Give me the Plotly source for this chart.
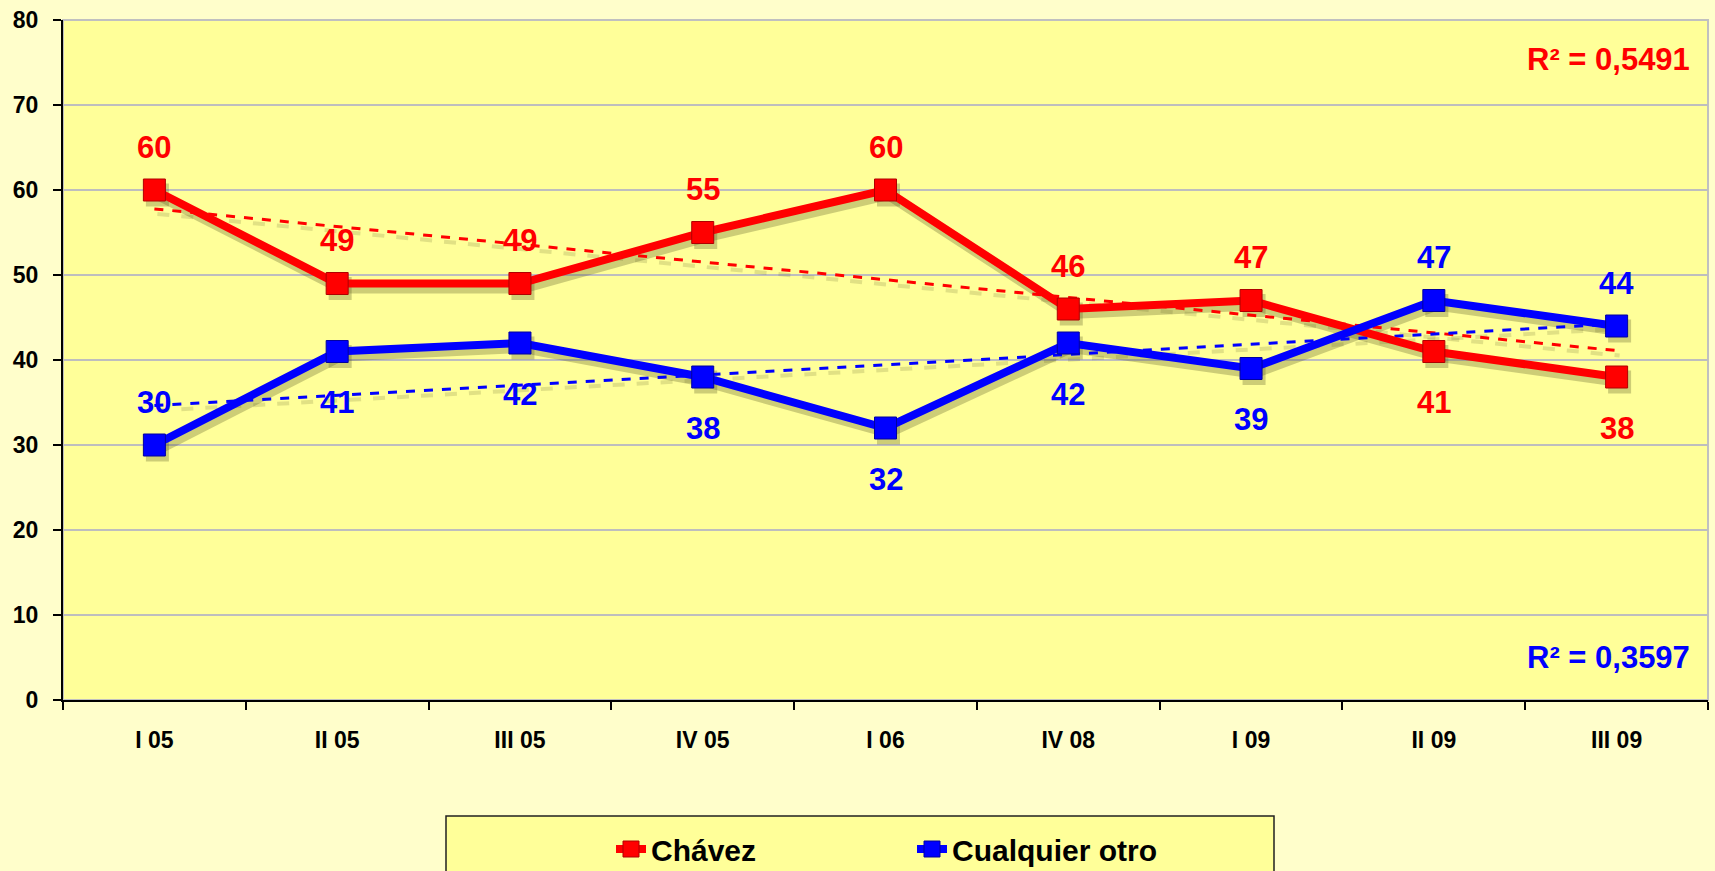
import numpy as np
import plotly.graph_objects as go

# data
periods = ["I 05", "II 05", "III 05", "IV 05", "I 06", "IV 08", "I 09", "II 09", "III 09"]
chavez = [60, 49, 49, 55, 60, 46, 47, 41, 38]
otro = [30, 41, 42, 38, 32, 42, 39, 47, 44]
chavez_label_pos = ["top", "top", "top", "top", "top", "top", "top", "bottom", "bottom"]
otro_label_pos = ["top", "bottom", "bottom", "bottom", "bottom", "bottom", "bottom", "top", "top"]
r2_chavez = "R² = 0,5491"
r2_otro = "R² = 0,3597"

RED = "#FF0000"
BLUE = "#0000FF"
PLOT_BG = "#FFFF99"
PAPER_BG = "#FFFECB"
SHADOW = "rgba(90,90,40,0.30)"
FONT = "Liberation Sans, Arial, sans-serif"

W, H = 1715, 871
M = dict(l=63, r=7, t=20, b=171, autoexpand=False)
plot_w = W - M["l"] - M["r"]
plot_h = H - M["t"] - M["b"]

idx = np.arange(len(periods))
trend_c = np.polyval(np.polyfit(idx, chavez, 1), idx)
trend_o = np.polyval(np.polyfit(idx, otro, 1), idx)

fig = go.Figure()

# invisible trace so the base axes know the categories
fig.add_trace(go.Scatter(x=periods, y=chavez, mode="markers", marker=dict(opacity=0),
                         showlegend=False, hoverinfo="skip"))

# shadow pass (drawn on an offset overlay axis)
for ys in [chavez, otro]:
    fig.add_trace(go.Scatter(x=periods, y=ys, mode="lines+markers", xaxis="x2", yaxis="y2",
                             line=dict(color=SHADOW, width=10),
                             marker=dict(symbol="square", size=23, color=SHADOW),
                             showlegend=False, hoverinfo="skip"))
for ys in [trend_c, trend_o]:
    fig.add_trace(go.Scatter(x=periods, y=ys, mode="lines", xaxis="x2", yaxis="y2",
                             line=dict(color="rgba(90,90,40,0.18)", width=4, dash="dash"),
                             showlegend=False, hoverinfo="skip"))

# real lines
fig.add_trace(go.Scatter(x=periods, y=trend_c, mode="lines", xaxis="x3", yaxis="y3",
                         line=dict(color=RED, width=3, dash="dash"), showlegend=False))
fig.add_trace(go.Scatter(x=periods, y=trend_o, mode="lines", xaxis="x3", yaxis="y3",
                         line=dict(color=BLUE, width=3, dash="dash"), showlegend=False))
fig.add_trace(go.Scatter(x=periods, y=chavez, mode="lines+markers", name="Chávez",
                         xaxis="x3", yaxis="y3",
                         line=dict(color=RED, width=8),
                         marker=dict(symbol="square", size=22, color=RED,
                                     line=dict(color="#B00000", width=1))))
fig.add_trace(go.Scatter(x=periods, y=otro, mode="lines+markers", name="Cualquier otro",
                         xaxis="x3", yaxis="y3",
                         line=dict(color=BLUE, width=8),
                         marker=dict(symbol="square", size=22, color=BLUE,
                                     line=dict(color="#0000A0", width=1))))

# value labels
for ys, pos, col in [(chavez, chavez_label_pos, RED), (otro, otro_label_pos, BLUE)]:
    for p, v, ps in zip(periods, ys, pos):
        fig.add_annotation(x=p, y=v, xref="x3", yref="y3", text=str(v), showarrow=False,
                           yshift=43 if ps == "top" else -51,
                           font=dict(family=FONT, size=31, color=col, weight="bold"))

fig.add_annotation(x=0.99, y=75.3, xref="paper", yref="y", xanchor="right", text=r2_chavez,
                   showarrow=False, font=dict(family=FONT, size=31, color=RED, weight="bold"))
fig.add_annotation(x=0.99, y=5.0, xref="paper", yref="y", xanchor="right", text=r2_otro,
                   showarrow=False, font=dict(family=FONT, size=31, color=BLUE, weight="bold"))

# legend box
fig.add_shape(type="rect", xref="paper", yref="paper",
              x0=(446 - M["l"]) / plot_w, x1=(1274 - M["l"]) / plot_w,
              y0=(700 - 816) / plot_h, y1=(700 - 900) / plot_h,
              line=dict(color="#202020", width=1.5), fillcolor=PLOT_BG, layer="below")
# plot border (top/right grey)
fig.add_shape(type="rect", xref="paper", yref="paper", x0=0, x1=1, y0=0, y1=1,
              line=dict(color="#C0C0C0", width=2), layer="below")

dx = 3 * 9 / plot_w
dy = 5 * 80 / plot_h
fig.update_layout(
    width=W, height=H, margin=M,
    paper_bgcolor=PAPER_BG, plot_bgcolor=PLOT_BG,
    font=dict(family=FONT, color="black"),
    xaxis=dict(type="category", categoryorder="array", categoryarray=periods,
               range=[-0.5, 8.5], showgrid=False, showline=True, automargin=False,
               linecolor="black", linewidth=2, ticks="outside", tickson="boundaries",
               ticklen=8, tickwidth=2, tickcolor="black", ticklabelstandoff=18,
               tickfont=dict(family=FONT, size=23, weight="bold")),
    yaxis=dict(range=[0, 80], dtick=10, showgrid=True, gridcolor="#BEBEBE", gridwidth=2,
               showline=True, linecolor="black", linewidth=2, ticks="outside", ticklen=8,
               tickwidth=2, tickcolor="black", zeroline=False, ticklabelstandoff=10,
               automargin=False, tickfont=dict(family=FONT, size=23, weight="bold")),
    xaxis2=dict(type="category", overlaying="x", range=[-0.5 - dx, 8.5 - dx], visible=False),
    yaxis2=dict(overlaying="y", range=[dy, 80 + dy], visible=False),
    xaxis3=dict(type="category", overlaying="x", range=[-0.5, 8.5], visible=False),
    yaxis3=dict(overlaying="y", range=[0, 80], visible=False),
    legend=dict(orientation="h", x=(611 - M["l"]) / plot_w, xanchor="left",
                y=(700 - 849) / plot_h, yanchor="middle", bgcolor="rgba(0,0,0,0)",
                entrywidth=256, font=dict(family=FONT, size=30, weight="bold")),
    showlegend=True,
)

# page body has a default 8px margin; drop it so the figure fills the window
fig.write_html("out.html", config={"displayModeBar": False},
               post_script="document.body.style.margin='0px';"
                           "document.body.style.overflow='hidden';")
